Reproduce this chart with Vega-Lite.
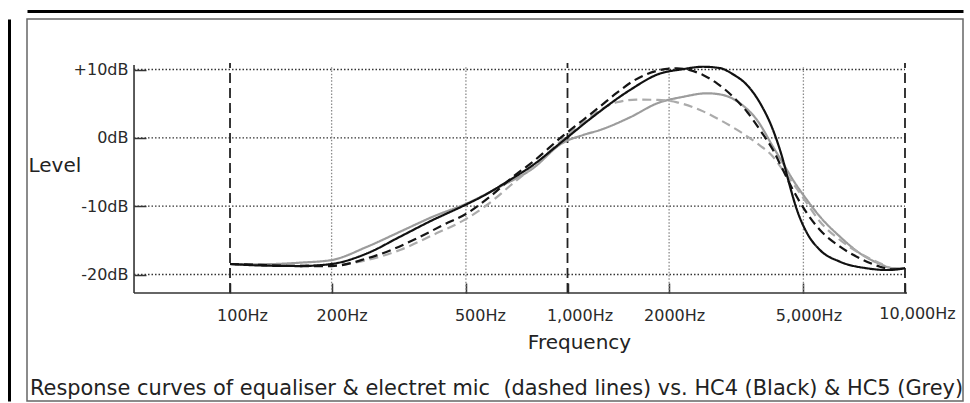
{
  "$schema": "https://vega.github.io/schema/vega-lite/v6.json",
  "width": 936,
  "height": 382,
  "autosize": {"type": "none"},
  "padding": {"left": 27, "top": 19, "right": 7, "bottom": 2},
  "background": "white",
  "config": {"view": {"stroke": "#666", "strokeWidth": 1.5}, "font": "DejaVu Sans"},
  "title": {
    "text": "Response curves of equaliser & electret mic\u00a0 (dashed lines) vs. HC4 (Black) & HC5 (Grey)",
    "orient": "bottom", "anchor": "start", "frame": "group", "offset": -6,
    "baseline": "alphabetic", "font": "DejaVu Sans", "fontSize": 20.9, "fontWeight": "normal",
    "color": "#222", "dx": 3
  },
  "datasets": {
    "hgrid": [{"level": 10}, {"level": 0}, {"level": -10}, {"level": -20}],
    "vmajor": [{"freq": 100}, {"freq": 1000}, {"freq": 10000}],
    "vminor": [{"freq": 200}, {"freq": 500}, {"freq": 2000}, {"freq": 5000}],
    "curves": [
      {"series": "HC5", "freq": 100, "level": -18.46},
      {"series": "HC5", "freq": 123, "level": -18.5},
      {"series": "HC5", "freq": 161, "level": -18.27},
      {"series": "HC5", "freq": 200, "level": -17.88},
      {"series": "HC5", "freq": 255, "level": -15.93},
      {"series": "HC5", "freq": 319, "level": -13.74},
      {"series": "HC5", "freq": 399, "level": -11.54},
      {"series": "HC5", "freq": 504, "level": -9.58},
      {"series": "HC5", "freq": 631, "level": -7.15},
      {"series": "HC5", "freq": 790, "level": -4.46},
      {"series": "HC5", "freq": 963, "level": -0.8},
      {"series": "HC5", "freq": 1112, "level": 0.41},
      {"series": "HC5", "freq": 1249, "level": 1.15},
      {"series": "HC5", "freq": 1532, "level": 3.0},
      {"series": "HC5", "freq": 1854, "level": 5.1},
      {"series": "HC5", "freq": 2199, "level": 6.0},
      {"series": "HC5", "freq": 2590, "level": 6.52},
      {"series": "HC5", "freq": 2889, "level": 6.27},
      {"series": "HC5", "freq": 3245, "level": 5.05},
      {"series": "HC5", "freq": 3643, "level": 2.61},
      {"series": "HC5", "freq": 4064, "level": -1.3},
      {"series": "HC5", "freq": 4350, "level": -3.73},
      {"series": "HC5", "freq": 4658, "level": -6.17},
      {"series": "HC5", "freq": 5124, "level": -9.1},
      {"series": "HC5", "freq": 5600, "level": -11.54},
      {"series": "HC5", "freq": 6419, "level": -14.47},
      {"series": "HC5", "freq": 7356, "level": -16.9},
      {"series": "HC5", "freq": 8435, "level": -18.46},
      {"series": "HC5", "freq": 9213, "level": -19.09},
      {"series": "HC5", "freq": 10000, "level": -19.09},

      {"series": "EQ + mic (grey)", "freq": 100, "level": -18.46},
      {"series": "EQ + mic (grey)", "freq": 161, "level": -18.61},
      {"series": "EQ + mic (grey)", "freq": 200, "level": -18.61},
      {"series": "EQ + mic (grey)", "freq": 255, "level": -17.88},
      {"series": "EQ + mic (grey)", "freq": 319, "level": -16.41},
      {"series": "EQ + mic (grey)", "freq": 399, "level": -14.22},
      {"series": "EQ + mic (grey)", "freq": 504, "level": -11.78},
      {"series": "EQ + mic (grey)", "freq": 577, "level": -9.83},
      {"series": "EQ + mic (grey)", "freq": 690, "level": -6.65},
      {"series": "EQ + mic (grey)", "freq": 790, "level": -4.22},
      {"series": "EQ + mic (grey)", "freq": 963, "level": -0.32},
      {"series": "EQ + mic (grey)", "freq": 1190, "level": 3.34},
      {"series": "EQ + mic (grey)", "freq": 1249, "level": 4.07},
      {"series": "EQ + mic (grey)", "freq": 1402, "level": 5.2},
      {"series": "EQ + mic (grey)", "freq": 1600, "level": 5.6},
      {"series": "EQ + mic (grey)", "freq": 1854, "level": 5.55},
      {"series": "EQ + mic (grey)", "freq": 2111, "level": 5.2},
      {"series": "EQ + mic (grey)", "freq": 2470, "level": 4.07},
      {"series": "EQ + mic (grey)", "freq": 2831, "level": 2.61},
      {"series": "EQ + mic (grey)", "freq": 3245, "level": 0.9},
      {"series": "EQ + mic (grey)", "freq": 3643, "level": -0.8},
      {"series": "EQ + mic (grey)", "freq": 4064, "level": -2.76},
      {"series": "EQ + mic (grey)", "freq": 4350, "level": -4.71},
      {"series": "EQ + mic (grey)", "freq": 4658, "level": -6.65},
      {"series": "EQ + mic (grey)", "freq": 5124, "level": -9.58},
      {"series": "EQ + mic (grey)", "freq": 5600, "level": -12.27},
      {"series": "EQ + mic (grey)", "freq": 6419, "level": -14.95},
      {"series": "EQ + mic (grey)", "freq": 7356, "level": -16.9},
      {"series": "EQ + mic (grey)", "freq": 8435, "level": -18.36},
      {"series": "EQ + mic (grey)", "freq": 9213, "level": -19.09},
      {"series": "EQ + mic (grey)", "freq": 10000, "level": -19.09},

      {"series": "EQ + mic (black)", "freq": 100, "level": -18.46},
      {"series": "EQ + mic (black)", "freq": 123, "level": -18.6},
      {"series": "EQ + mic (black)", "freq": 161, "level": -18.76},
      {"series": "EQ + mic (black)", "freq": 200, "level": -18.76},
      {"series": "EQ + mic (black)", "freq": 255, "level": -17.63},
      {"series": "EQ + mic (black)", "freq": 304, "level": -16.31},
      {"series": "EQ + mic (black)", "freq": 358, "level": -14.7},
      {"series": "EQ + mic (black)", "freq": 428, "level": -12.76},
      {"series": "EQ + mic (black)", "freq": 504, "level": -11.04},
      {"series": "EQ + mic (black)", "freq": 589, "level": -8.61},
      {"series": "EQ + mic (black)", "freq": 690, "level": -5.69},
      {"series": "EQ + mic (black)", "freq": 790, "level": -3.49},
      {"series": "EQ + mic (black)", "freq": 963, "level": 0.17},
      {"series": "EQ + mic (black)", "freq": 1112, "level": 2.61},
      {"series": "EQ + mic (black)", "freq": 1249, "level": 4.6},
      {"series": "EQ + mic (black)", "freq": 1402, "level": 6.6},
      {"series": "EQ + mic (black)", "freq": 1564, "level": 8.3},
      {"series": "EQ + mic (black)", "freq": 1854, "level": 9.85},
      {"series": "EQ + mic (black)", "freq": 2111, "level": 10.18},
      {"series": "EQ + mic (black)", "freq": 2307, "level": 9.9},
      {"series": "EQ + mic (black)", "freq": 2520, "level": 9.2},
      {"series": "EQ + mic (black)", "freq": 2773, "level": 7.98},
      {"series": "EQ + mic (black)", "freq": 3093, "level": 6.02},
      {"series": "EQ + mic (black)", "freq": 3403, "level": 3.82},
      {"series": "EQ + mic (black)", "freq": 3719, "level": 1.15},
      {"series": "EQ + mic (black)", "freq": 4064, "level": -1.78},
      {"series": "EQ + mic (black)", "freq": 4350, "level": -4.71},
      {"series": "EQ + mic (black)", "freq": 4658, "level": -7.63},
      {"series": "EQ + mic (black)", "freq": 5124, "level": -11.04},
      {"series": "EQ + mic (black)", "freq": 5600, "level": -13.49},
      {"series": "EQ + mic (black)", "freq": 6419, "level": -15.93},
      {"series": "EQ + mic (black)", "freq": 7356, "level": -17.63},
      {"series": "EQ + mic (black)", "freq": 8435, "level": -18.86},
      {"series": "EQ + mic (black)", "freq": 9213, "level": -19.24},
      {"series": "EQ + mic (black)", "freq": 10000, "level": -19.09},

      {"series": "HC4", "freq": 100, "level": -18.46},
      {"series": "HC4", "freq": 123, "level": -18.68},
      {"series": "HC4", "freq": 161, "level": -18.76},
      {"series": "HC4", "freq": 200, "level": -18.46},
      {"series": "HC4", "freq": 255, "level": -16.9},
      {"series": "HC4", "freq": 319, "level": -14.47},
      {"series": "HC4", "freq": 399, "level": -12.02},
      {"series": "HC4", "freq": 490, "level": -9.98},
      {"series": "HC4", "freq": 562, "level": -8.51},
      {"series": "HC4", "freq": 662, "level": -6.42},
      {"series": "HC4", "freq": 790, "level": -3.98},
      {"series": "HC4", "freq": 963, "level": -0.57},
      {"series": "HC4", "freq": 1190, "level": 3.09},
      {"series": "HC4", "freq": 1532, "level": 7.0},
      {"series": "HC4", "freq": 1854, "level": 9.3},
      {"series": "HC4", "freq": 2199, "level": 10.05},
      {"series": "HC4", "freq": 2520, "level": 10.4},
      {"series": "HC4", "freq": 2831, "level": 10.2},
      {"series": "HC4", "freq": 3093, "level": 9.3},
      {"series": "HC4", "freq": 3403, "level": 7.73},
      {"series": "HC4", "freq": 3719, "level": 5.1},
      {"series": "HC4", "freq": 4064, "level": 1.15},
      {"series": "HC4", "freq": 4350, "level": -3.24},
      {"series": "HC4", "freq": 4533, "level": -6.61},
      {"series": "HC4", "freq": 4786, "level": -10.56},
      {"series": "HC4", "freq": 5124, "level": -13.93},
      {"series": "HC4", "freq": 5600, "level": -16.42},
      {"series": "HC4", "freq": 6419, "level": -18.13},
      {"series": "HC4", "freq": 7718, "level": -19.09},
      {"series": "HC4", "freq": 8844, "level": -19.34},
      {"series": "HC4", "freq": 10000, "level": -19.09}
    ]
  },
  "resolve": {"axis": {"x": "independent", "y": "independent"}},
  "layer": [
    {
      "data": {"name": "hgrid"},
      "mark": {"type": "rule", "stroke": "#333", "strokeWidth": 1.3, "strokeDash": [1.5, 2]},
      "encoding": {
        "y": {
          "field": "level", "type": "quantitative",
          "scale": {"domain": [-38.51, 17.39], "nice": false, "zero": false},
          "axis": {"orient": "left", "offset": 18, "domainColor": "#000", "domainWidth": 3, "ticks": false, "labels": false, "grid": false, "title": null}
        },
        "x": {
          "datum": 51.95, "type": "quantitative",
          "scale": {"type": "log", "domain": [25.03, 14855], "nice": false},
          "axis": {"orient": "top", "offset": 8, "domainColor": "#000", "domainWidth": 3, "ticks": false, "labels": false, "grid": false, "title": null}
        },
        "x2": {"datum": 10000}
      }
    },
    {
      "data": {"name": "vminor"},
      "mark": {"type": "rule", "stroke": "#8a8a8a", "strokeWidth": 1.3, "strokeDash": [1.5, 1.8]},
      "encoding": {
        "x": {"field": "freq", "type": "quantitative", "axis": null},
        "y": {"datum": -22.71, "type": "quantitative", "axis": null},
        "y2": {"datum": 10.5}
      }
    },
    {
      "data": {"name": "vmajor"},
      "mark": {"type": "rule", "stroke": "#222", "strokeWidth": 1.8, "strokeDash": [10, 5]},
      "encoding": {
        "x": {"field": "freq", "type": "quantitative", "axis": null},
        "y": {"datum": -22.71, "type": "quantitative", "axis": null},
        "y2": {"datum": 10.95}
      }
    },
    {
      "data": {"values": [{"line": "frequency axis"}]},
      "mark": {"type": "rule", "stroke": "#333", "strokeWidth": 1.6},
      "encoding": {
        "x": {"datum": 51.95, "type": "quantitative", "axis": null},
        "x2": {"datum": 10138},
        "y": {"datum": -22.71, "type": "quantitative", "axis": null}
      }
    },
    {
      "data": {"values": [{"line": "level axis"}]},
      "mark": {"type": "rule", "stroke": "#333", "strokeWidth": 1.6},
      "encoding": {
        "x": {"datum": 51.95, "type": "quantitative", "axis": null},
        "y": {"datum": -22.71, "type": "quantitative", "axis": null},
        "y2": {"datum": 10.66}
      }
    },
    {
      "data": {"name": "curves"},
      "mark": {"type": "line", "interpolate": "monotone", "strokeWidth": 2.2},
      "encoding": {
        "x": {
          "field": "freq", "type": "quantitative",
          "axis": {
            "orient": "bottom", "offset": -108,
            "values": [100, 200, 500, 1000, 2000, 5000, 10000],
            "labelExpr": "datum.value == 100 ? '100Hz' : datum.value == 200 ? '200Hz' : datum.value == 500 ? '500Hz' : datum.value == 1000 ? '1,000Hz' : datum.value == 2000 ? '2000Hz' : datum.value == 5000 ? '5,000Hz' : '10,000Hz'",
            "domain": false, "grid": false, "ticks": true, "tickSize": -10, "tickColor": "#333", "tickWidth": 1.5,
            "labelFont": "DejaVu Sans", "labelFontSize": 16, "labelColor": "#2a2a2a",
            "labelPadding": {"condition": {"test": "datum.value == 10000", "value": 22}, "value": 24},
            "labelFlush": false, "labelOverlap": false, "labelBound": false,
            "labelOffset": {"condition": [
              {"test": "datum.value == 2000", "value": 5},
              {"test": "datum.value == 5000", "value": 5},
              {"test": "datum.value == 500", "value": 14},
              {"test": "datum.value == 200", "value": 10}
            ], "value": 12},
            "title": "Frequency", "titleFont": "DejaVu Sans", "titleFontSize": 20, "titleFontWeight": "normal",
            "titleColor": "#222", "titleX": 552, "titleY": 55, "titleAlign": "center", "titleBaseline": "alphabetic"
          }
        },
        "y": {
          "field": "level", "type": "quantitative",
          "axis": {
            "orient": "left", "offset": -107,
            "values": [-20, -10, 0, 10],
            "labelExpr": "(datum.value > 0 ? '+' : '') + datum.value + 'dB'",
            "domain": false, "grid": false, "ticks": true, "tickSize": -12, "tickColor": "#333", "tickWidth": 1.5,
            "labelFont": "DejaVu Sans", "labelFontSize": 16, "labelColor": "#2a2a2a", "labelPadding": 18,
            "labelFlush": false, "labelOverlap": false, "labelBaseline": "middle",
            "title": "Level", "titleAngle": 0, "titleAlign": "left", "titleBaseline": "alphabetic",
            "titleX": -106, "titleY": 152, "titleFont": "DejaVu Sans", "titleFontSize": 20,
            "titleFontWeight": "normal", "titleColor": "#222"
          }
        },
        "color": {
          "field": "series", "type": "nominal", "legend": null,
          "scale": {"domain": ["HC5", "EQ + mic (grey)", "EQ + mic (black)", "HC4"], "range": ["#9c9c9c", "#ababab", "#151515", "#111111"]}
        },
        "strokeDash": {
          "field": "series", "type": "nominal", "legend": null,
          "scale": {"domain": ["HC5", "EQ + mic (grey)", "EQ + mic (black)", "HC4"], "range": [[1, 0], [9, 5], [9, 5], [1, 0]]}
        }
      }
    }
  ]
}
